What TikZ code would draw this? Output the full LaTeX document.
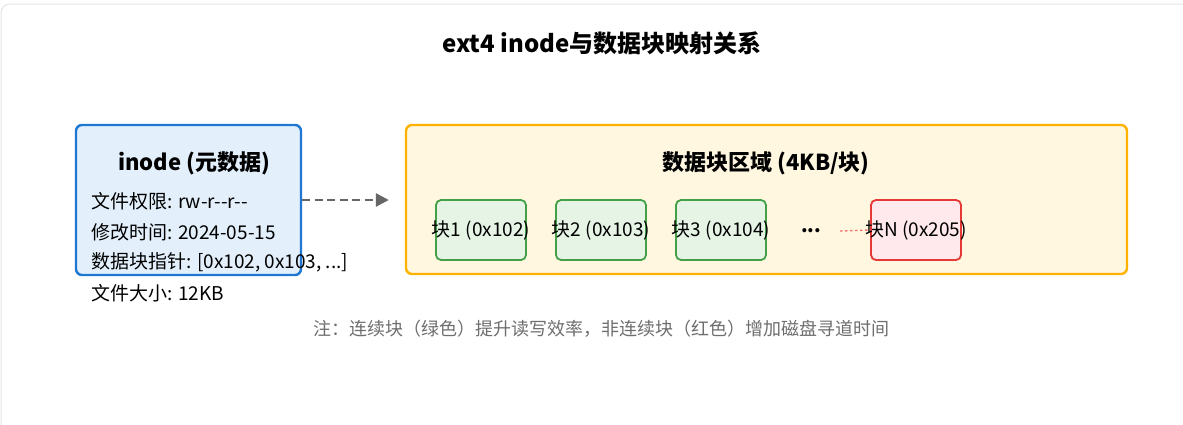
\documentclass[tikz,border=0pt]{standalone}
\usepackage{fontspec}
\setmainfont{Noto Sans CJK SC}
\usepackage{xcolor}
\usetikzlibrary{arrows.meta, positioning}

\definecolor{inodeblue}{HTML}{1E78D2}
\definecolor{inodefill}{HTML}{E3F0FC}
\definecolor{areaorange}{HTML}{FFB300}
\definecolor{areafill}{HTML}{FFF7E0}
\definecolor{blkgreen}{HTML}{43A047}
\definecolor{blkfill}{HTML}{E6F4E6}
\definecolor{blkred}{HTML}{E53935}
\definecolor{blkredfill}{HTML}{FFE9EC}
\definecolor{notegray}{HTML}{6E6E6E}
\definecolor{arrowgray}{HTML}{666666}

% block label that may stick out of its box on both sides
\newcommand{\blocklabel}[1]{\makebox[90pt][c]{#1}}

\tikzset{
  panel/.style={rounded corners=6pt, line width=2.4pt},
  blockbox/.style={draw=blkgreen, fill=blkfill, rounded corners=5pt, line width=1.8pt,
    minimum width=90pt, minimum height=60pt, inner sep=0pt, font=\fontsize{19}{22}\selectfont},
  badblock/.style={blockbox, draw=blkred, fill=blkredfill},
  metaline/.style={anchor=west, inner sep=0pt, font=\fontsize{19}{22}\selectfont},
  headline/.style={font=\fontsize{22}{24}\selectfont\bfseries, inner sep=0pt}
}

\begin{document}
\begin{tikzpicture}[x=1pt, y=-1pt]
\useasboundingbox (0,0) rectangle (1183,424);
\draw[draw=black!10, fill=white, rounded corners=9pt, line width=1pt] (1,4) rectangle (1200,440);

% title
\node[font=\fontsize{24}{28}\selectfont\bfseries, inner sep=0pt] (title) at (602,43)
  {ext4 inode与数据块映射关系};

% inode (metadata)
\node[panel, draw=inodeblue, fill=inodefill, minimum width=225pt, minimum height=150pt,
      inner sep=0pt] (inode) at (188.5,200) {};
\node[headline] (inodehead) at (194,163) {inode (元数据)};
\node[metaline] (perm) at (91,201) {文件权限: rw-r{-}{-}r{-}{-}};
\node[metaline] (mtime) at (91,232) {修改时间: 2024-05-15};
\node[metaline] (ptrs) at (91,262) {数据块指针: [0x102, 0x103, ...]};
\node[metaline] (size) at (91,293) {文件大小: 12KB};

% data block area
\node[panel, draw=areaorange, fill=areafill, minimum width=721pt, minimum height=149pt,
      inner sep=0pt] (region) at (766.5,199.5) {};
\node[headline] (regionhead) at (766,163) {数据块区域 (4KB/块)};

\node[blockbox] (b1) at (481,230) {\blocklabel{块1 (0x102)}};
\node[blockbox, right=28.2pt of b1] (b2) {\blocklabel{块2 (0x103)}};
\node[blockbox, right=28.2pt of b2] (b3) {\blocklabel{块3 (0x104)}};
\node[font=\fontsize{19}{22}\selectfont\bfseries, inner sep=0pt] (dots) at (811,231) {...};
\node[badblock] (bn) at (916,230) {\blocklabel{块N (0x205)}};

% links
\draw[arrowgray, line width=2.6pt, dash pattern=on 8pt off 4.5pt,
      -{Triangle[length=13pt, width=13pt]}]
  (inode.east) -- ([xshift=-16pt]region.west |- inode.east);
\draw[blkred!70, line width=1.4pt, dash pattern=on 2.5pt off 2.5pt]
  ([xshift=29pt]dots.center) -- (bn.west);

% note
\node[notegray, font=\fontsize{18}{20}\selectfont, inner sep=0pt] (note) at (601,329)
  {注：连续块（绿色）提升读写效率，非连续块（红色）增加磁盘寻道时间};
\end{tikzpicture}
\end{document}
